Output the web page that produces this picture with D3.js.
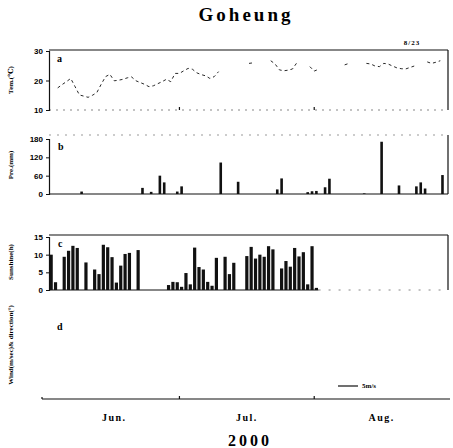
<!DOCTYPE html>
<html>
<head>
<meta charset="utf-8">
<script src="https://cdn.jsdelivr.net/npm/d3@7"></script>
<style>
  body { margin: 0; background: #fff; }
  svg { display: block; }
  .tick text { font-family: 'Liberation Sans', sans-serif; font-weight: bold; font-size: 8px; }
</style>
</head>
<body>
<svg id="chart" width="453" height="448"></svg>
<script>
// daily values, index 0 = Jun 1 2000
const temperature = [
  null, null, 17.5, 18.6, 19.6, 20.7, 17.9, 15.1, 14.7, 14.3,
  15.0, 15.9, 18.7, 21.3, 22.1, 19.9, 20.1, 20.4, 20.9, 21.2,
  19.9, 19.3, 18.7, 17.9, 18.2, 18.9, 19.6, 20.4, 19.6, 22.4,
  22.4, 23.3, 24.1, 23.8, 22.6, 22.0, 21.6, 20.7, 21.3, 23.0,
  null, null, null, null, null, null, 25.8, 26.0, null, null,
  null, 26.7, 25.6, 23.6, 23.3, 23.5, 23.9, 26.0, null, null,
  24.7, 23.2, 23.8, null, null, null, null, null, 25.3, 25.8,
  null, null, null, 25.8, 25.6, 24.9, 24.7, 25.8, 25.6, 24.9,
  24.3, 24.0, 23.9, 24.4, 24.9, null, null, 26.3, 25.8, 26.2,
  26.7, null
];

const precipDays =   [7, 21, 23, 25, 26, 29, 30, 39, 43, 52, 53, 59, 60, 61, 63, 64, 72, 76, 80, 84, 85, 86, 90];
const precipValues = [8, 20, 7, 60, 38, 8, 25, 103, 40, 15, 51, 6, 9, 10, 22, 50, 2, 171, 28, 25, 38, 18, 62];

const sunshine = [
  10.0, 2.2, 0, 9.4, 11.1, 12.5, 11.9, 0, 7.8, 0,
  5.8, 4.5, 12.8, 12.1, 9.3, 2.1, 6.9, 10.2, 10.5, 0,
  11.3, 0, 0, 0, 0, 0, 0, 1.4, 2.3, 2.2,
  0.9, 4.8, 1.6, 12.0, 6.5, 5.8, 2.3, 1.2, 9.1, 0,
  9.4, 4.5, 7.7, 0, 0, 9.6, 12.2, 8.9, 10.0, 9.4,
  12.4, 11.5, 0, 6.1, 8.2, 6.6, 11.9, 9.5, 10.7, 1.6,
  12.4, 0.6
];

const months = ['Jun.', 'Jul.', 'Aug.'];
const monthStarts = [0, 30, 61, 92];
const tempTicks = [10, 20, 30];
const precipTicks = [0, 60, 120, 180];
const sunTicks = [0, 5, 10, 15];

const svg = d3.select('#chart');
const serif = "'Liberation Serif', 'DejaVu Serif', serif";

const x = d3.scaleLinear().domain([0, 92]).range([49, 449]);
const left = 49, right = 448;

const yTemp = d3.scaleLinear().domain([10, 30]).range([110, 51]);
const yPre = d3.scaleLinear().domain([0, 180]).range([194, 139]);
const ySun = d3.scaleLinear().domain([0, 15]).range([290, 237]);
const windBase = 399;

// title
svg.append('text').attr('x', 246).attr('y', 21).attr('text-anchor', 'middle')
  .style('font-family', serif).style('font-weight', 'bold').style('font-size', '19px')
  .style('letter-spacing', '3px').text('Goheung');

function line(x1, y1, x2, y2, dash, color) {
  svg.append('line').attr('x1', x1).attr('y1', y1).attr('x2', x2).attr('y2', y2)
    .attr('stroke', color || '#111').attr('stroke-width', 1.2)
    .attr('stroke-dasharray', dash || null);
}

function yAxis(scale, ticks) {
  const g = svg.append('g').attr('transform', `translate(${left},0)`)
    .call(d3.axisLeft(scale).tickValues(ticks).tickSize(3).tickPadding(3));
  g.select('.domain').attr('stroke', '#111').attr('stroke-width', 1.2);
  g.selectAll('.tick line').attr('stroke', '#111');
}

function yTitle(text, cy) {
  svg.append('text').attr('transform', `translate(13,${cy}) rotate(-90)`)
    .attr('text-anchor', 'middle').style('font-family', serif)
    .style('font-size', '7px').style('font-weight', 'bold').text(text);
}

function panelLetter(t, px, py) {
  svg.append('text').attr('x', px).attr('y', py).style('font-family', serif)
    .style('font-weight', 'bold').style('font-size', '10px').text(t);
}

function monthTicks(yb) {
  monthStarts.slice(1, 3).forEach(d => line(x(d), yb, x(d), yb - 3));
}

// panel a: temperature
line(left, 50, right, 50);
line(right, 50, right, 110);
line(left, 110, right, 110, '2,5', '#888');
monthTicks(110);
yAxis(yTemp, tempTicks);
yTitle('Tem.(℃)', 80);
panelLetter('a', 57, 62);
svg.append('text').attr('x', 412).attr('y', 45).attr('text-anchor', 'middle')
  .style('font-family', serif).style('font-weight', 'bold').style('font-size', '7px')
  .style('letter-spacing', '1px').text('8/23');

const tempLine = d3.line()
  .defined(d => d != null)
  .x((d, i) => x(i))
  .y(d => yTemp(d));
svg.append('path').datum(temperature).attr('d', tempLine)
  .attr('fill', 'none').attr('stroke', '#111').attr('stroke-width', 0.9)
  .attr('stroke-dasharray', '3,3');

// panel b: precipitation
line(left, 135, right, 135, '2,6', '#999');
line(right, 135, right, 194);
line(left, 194, right, 194);
yAxis(yPre, precipTicks);
yTitle('Pre.(mm)', 165);
panelLetter('b', 58, 150);

svg.append('g').selectAll('rect').data(precipDays).join('rect')
  .attr('x', (d) => x(d + 0.5) - 1.3)
  .attr('width', 2.6)
  .attr('y', (d, i) => yPre(precipValues[i]))
  .attr('height', (d, i) => yPre(0) - yPre(precipValues[i]))
  .attr('fill', '#111');

// panel c: sunshine
line(left, 235, right, 235);
line(right, 235, right, 290);
line(left, 290, x(sunshine.length), 290);
line(x(sunshine.length), 290, right, 290, '2,8', '#888');
yAxis(ySun, sunTicks);
yTitle('Sunshine(h)', 262);
panelLetter('c', 58, 247);

svg.append('g').selectAll('rect').data(sunshine).join('rect')
  .attr('x', (d, i) => x(i + 0.5) - 1.6)
  .attr('width', 3.2)
  .attr('y', d => ySun(d))
  .attr('height', d => ySun(0) - ySun(d))
  .attr('fill', '#111');

// panel d: wind (no vectors drawn)
yTitle('Wind(m/sec)& direction(°)', 345);
panelLetter('d', 57, 330);
line(42, windBase, 450, windBase);
line(42, windBase, 42, windBase - 2);
monthTicks(windBase);
line(338, 386, 358, 386);
svg.append('text').attr('x', 362).attr('y', 388)
  .style('font-family', serif).style('font-weight', 'bold').style('font-size', '7px')
  .text('5m/s');

// month labels
months.forEach((m, i) => {
  svg.append('text')
    .attr('x', x((monthStarts[i] + monthStarts[i + 1]) / 2))
    .attr('y', 421).attr('text-anchor', 'middle')
    .style('font-family', serif).style('font-weight', 'bold').style('font-size', '10px')
    .style('letter-spacing', '1.5px').text(m);
});

svg.append('text').attr('x', 250).attr('y', 446).attr('text-anchor', 'middle')
  .style('font-family', serif).style('font-weight', 'bold').style('font-size', '16px')
  .style('letter-spacing', '3px').text('2000');
</script>
</body>
</html>
